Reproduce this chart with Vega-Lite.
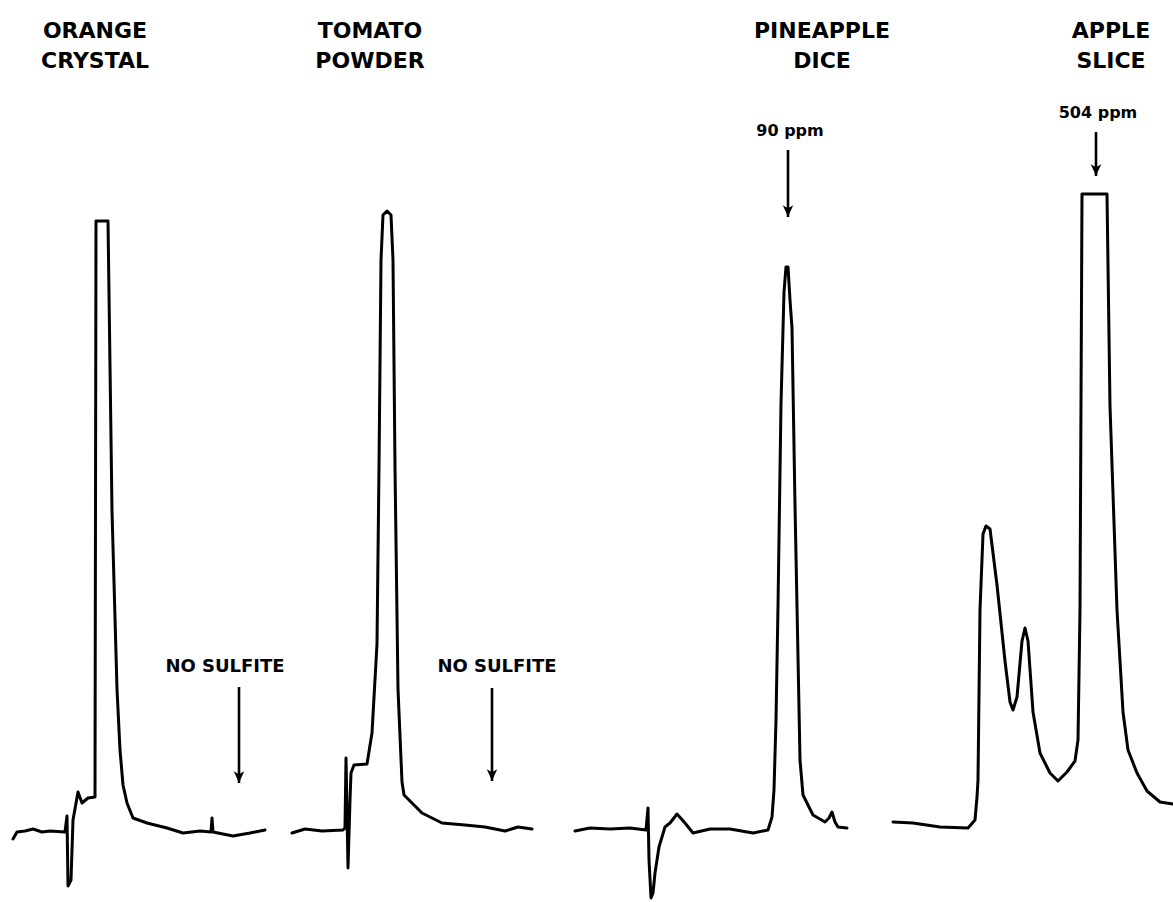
{
  "$schema": "https://vega.github.io/schema/vega-lite/v6.json",
  "width": 1173,
  "height": 902,
  "padding": 0,
  "autosize": {"type": "none"},
  "background": "white",
  "config": {"view": {"stroke": null}},
  "datasets": {
    "traces": [
      {"trace": "orange", "i": 1, "t": 13, "v": 839},
      {"trace": "orange", "i": 2, "t": 17, "v": 832},
      {"trace": "orange", "i": 3, "t": 25, "v": 831},
      {"trace": "orange", "i": 4, "t": 33, "v": 829},
      {"trace": "orange", "i": 5, "t": 42, "v": 832},
      {"trace": "orange", "i": 6, "t": 50, "v": 831},
      {"trace": "orange", "i": 7, "t": 65, "v": 832},
      {"trace": "orange", "i": 8, "t": 67, "v": 816},
      {"trace": "orange", "i": 9, "t": 68, "v": 886},
      {"trace": "orange", "i": 10, "t": 71, "v": 880},
      {"trace": "orange", "i": 11, "t": 73, "v": 820},
      {"trace": "orange", "i": 12, "t": 78, "v": 792},
      {"trace": "orange", "i": 13, "t": 82, "v": 803},
      {"trace": "orange", "i": 14, "t": 88, "v": 798},
      {"trace": "orange", "i": 15, "t": 95, "v": 797},
      {"trace": "orange", "i": 16, "t": 96, "v": 221},
      {"trace": "orange", "i": 17, "t": 108, "v": 221},
      {"trace": "orange", "i": 18, "t": 112, "v": 511},
      {"trace": "orange", "i": 19, "t": 117, "v": 689},
      {"trace": "orange", "i": 20, "t": 120, "v": 750},
      {"trace": "orange", "i": 21, "t": 123, "v": 785},
      {"trace": "orange", "i": 22, "t": 127, "v": 803},
      {"trace": "orange", "i": 23, "t": 133, "v": 818},
      {"trace": "orange", "i": 24, "t": 147, "v": 823},
      {"trace": "orange", "i": 25, "t": 167, "v": 828},
      {"trace": "orange", "i": 26, "t": 183, "v": 833},
      {"trace": "orange", "i": 27, "t": 200, "v": 831},
      {"trace": "orange", "i": 28, "t": 211, "v": 832},
      {"trace": "orange", "i": 29, "t": 212, "v": 818},
      {"trace": "orange", "i": 30, "t": 213, "v": 832},
      {"trace": "orange", "i": 31, "t": 233, "v": 836},
      {"trace": "orange", "i": 32, "t": 250, "v": 833},
      {"trace": "orange", "i": 33, "t": 265, "v": 830},
      {"trace": "tomato", "i": 1, "t": 292, "v": 833},
      {"trace": "tomato", "i": 2, "t": 305, "v": 829},
      {"trace": "tomato", "i": 3, "t": 322, "v": 831},
      {"trace": "tomato", "i": 4, "t": 343, "v": 830},
      {"trace": "tomato", "i": 5, "t": 345, "v": 828},
      {"trace": "tomato", "i": 6, "t": 346, "v": 758},
      {"trace": "tomato", "i": 7, "t": 348, "v": 868},
      {"trace": "tomato", "i": 8, "t": 350, "v": 800},
      {"trace": "tomato", "i": 9, "t": 351, "v": 773},
      {"trace": "tomato", "i": 10, "t": 354, "v": 765},
      {"trace": "tomato", "i": 11, "t": 367, "v": 764},
      {"trace": "tomato", "i": 12, "t": 372, "v": 733},
      {"trace": "tomato", "i": 13, "t": 377, "v": 644},
      {"trace": "tomato", "i": 14, "t": 379, "v": 467},
      {"trace": "tomato", "i": 15, "t": 381, "v": 260},
      {"trace": "tomato", "i": 16, "t": 383, "v": 215},
      {"trace": "tomato", "i": 17, "t": 387, "v": 211},
      {"trace": "tomato", "i": 18, "t": 391, "v": 215},
      {"trace": "tomato", "i": 19, "t": 393, "v": 260},
      {"trace": "tomato", "i": 20, "t": 395, "v": 467},
      {"trace": "tomato", "i": 21, "t": 398, "v": 689},
      {"trace": "tomato", "i": 22, "t": 402, "v": 782},
      {"trace": "tomato", "i": 23, "t": 404, "v": 795},
      {"trace": "tomato", "i": 24, "t": 412, "v": 803},
      {"trace": "tomato", "i": 25, "t": 422, "v": 813},
      {"trace": "tomato", "i": 26, "t": 442, "v": 823},
      {"trace": "tomato", "i": 27, "t": 465, "v": 825},
      {"trace": "tomato", "i": 28, "t": 485, "v": 827},
      {"trace": "tomato", "i": 29, "t": 505, "v": 831},
      {"trace": "tomato", "i": 30, "t": 518, "v": 827},
      {"trace": "tomato", "i": 31, "t": 532, "v": 829},
      {"trace": "pineapple", "i": 1, "t": 575, "v": 831},
      {"trace": "pineapple", "i": 2, "t": 590, "v": 828},
      {"trace": "pineapple", "i": 3, "t": 610, "v": 829},
      {"trace": "pineapple", "i": 4, "t": 630, "v": 828},
      {"trace": "pineapple", "i": 5, "t": 646, "v": 830},
      {"trace": "pineapple", "i": 6, "t": 648, "v": 808},
      {"trace": "pineapple", "i": 7, "t": 649, "v": 860},
      {"trace": "pineapple", "i": 8, "t": 651, "v": 898},
      {"trace": "pineapple", "i": 9, "t": 653, "v": 893},
      {"trace": "pineapple", "i": 10, "t": 655, "v": 873},
      {"trace": "pineapple", "i": 11, "t": 659, "v": 847},
      {"trace": "pineapple", "i": 12, "t": 665, "v": 827},
      {"trace": "pineapple", "i": 13, "t": 670, "v": 823},
      {"trace": "pineapple", "i": 14, "t": 677, "v": 814},
      {"trace": "pineapple", "i": 15, "t": 685, "v": 823},
      {"trace": "pineapple", "i": 16, "t": 693, "v": 833},
      {"trace": "pineapple", "i": 17, "t": 710, "v": 829},
      {"trace": "pineapple", "i": 18, "t": 730, "v": 829},
      {"trace": "pineapple", "i": 19, "t": 753, "v": 833},
      {"trace": "pineapple", "i": 20, "t": 768, "v": 830},
      {"trace": "pineapple", "i": 21, "t": 772, "v": 817},
      {"trace": "pineapple", "i": 22, "t": 774, "v": 790},
      {"trace": "pineapple", "i": 23, "t": 776, "v": 720},
      {"trace": "pineapple", "i": 24, "t": 778, "v": 606},
      {"trace": "pineapple", "i": 25, "t": 781, "v": 404},
      {"trace": "pineapple", "i": 26, "t": 784, "v": 292},
      {"trace": "pineapple", "i": 27, "t": 786, "v": 267},
      {"trace": "pineapple", "i": 28, "t": 788, "v": 267},
      {"trace": "pineapple", "i": 29, "t": 790, "v": 300},
      {"trace": "pineapple", "i": 30, "t": 792, "v": 328},
      {"trace": "pineapple", "i": 31, "t": 795, "v": 505},
      {"trace": "pineapple", "i": 32, "t": 798, "v": 657},
      {"trace": "pineapple", "i": 33, "t": 800, "v": 760},
      {"trace": "pineapple", "i": 34, "t": 803, "v": 795},
      {"trace": "pineapple", "i": 35, "t": 807, "v": 803},
      {"trace": "pineapple", "i": 36, "t": 813, "v": 815},
      {"trace": "pineapple", "i": 37, "t": 825, "v": 822},
      {"trace": "pineapple", "i": 38, "t": 829, "v": 818},
      {"trace": "pineapple", "i": 39, "t": 832, "v": 812},
      {"trace": "pineapple", "i": 40, "t": 835, "v": 822},
      {"trace": "pineapple", "i": 41, "t": 838, "v": 827},
      {"trace": "pineapple", "i": 42, "t": 847, "v": 828},
      {"trace": "apple", "i": 1, "t": 893, "v": 822},
      {"trace": "apple", "i": 2, "t": 913, "v": 823},
      {"trace": "apple", "i": 3, "t": 940, "v": 827},
      {"trace": "apple", "i": 4, "t": 968, "v": 828},
      {"trace": "apple", "i": 5, "t": 975, "v": 820},
      {"trace": "apple", "i": 6, "t": 977, "v": 797},
      {"trace": "apple", "i": 7, "t": 978, "v": 780},
      {"trace": "apple", "i": 8, "t": 980, "v": 610},
      {"trace": "apple", "i": 9, "t": 983, "v": 534},
      {"trace": "apple", "i": 10, "t": 986, "v": 526},
      {"trace": "apple", "i": 11, "t": 990, "v": 529},
      {"trace": "apple", "i": 12, "t": 997, "v": 585},
      {"trace": "apple", "i": 13, "t": 1005, "v": 661},
      {"trace": "apple", "i": 14, "t": 1010, "v": 702},
      {"trace": "apple", "i": 15, "t": 1013, "v": 710},
      {"trace": "apple", "i": 16, "t": 1017, "v": 697},
      {"trace": "apple", "i": 17, "t": 1022, "v": 641},
      {"trace": "apple", "i": 18, "t": 1025, "v": 628},
      {"trace": "apple", "i": 19, "t": 1028, "v": 641},
      {"trace": "apple", "i": 20, "t": 1033, "v": 712},
      {"trace": "apple", "i": 21, "t": 1040, "v": 753},
      {"trace": "apple", "i": 22, "t": 1050, "v": 773},
      {"trace": "apple", "i": 23, "t": 1058, "v": 781},
      {"trace": "apple", "i": 24, "t": 1067, "v": 772},
      {"trace": "apple", "i": 25, "t": 1075, "v": 761},
      {"trace": "apple", "i": 26, "t": 1078, "v": 740},
      {"trace": "apple", "i": 27, "t": 1080, "v": 610},
      {"trace": "apple", "i": 28, "t": 1082, "v": 194},
      {"trace": "apple", "i": 29, "t": 1107, "v": 194},
      {"trace": "apple", "i": 30, "t": 1110, "v": 406},
      {"trace": "apple", "i": 31, "t": 1117, "v": 610},
      {"trace": "apple", "i": 32, "t": 1123, "v": 712},
      {"trace": "apple", "i": 33, "t": 1128, "v": 750},
      {"trace": "apple", "i": 34, "t": 1137, "v": 773},
      {"trace": "apple", "i": 35, "t": 1147, "v": 791},
      {"trace": "apple", "i": 36, "t": 1160, "v": 802},
      {"trace": "apple", "i": 37, "t": 1173, "v": 804}
    ],
    "titles": [
      {"t": 95, "v": 31, "label": "ORANGE"},
      {"t": 95, "v": 61, "label": "CRYSTAL"},
      {"t": 370, "v": 31, "label": "TOMATO"},
      {"t": 370, "v": 61, "label": "POWDER"},
      {"t": 822, "v": 31, "label": "PINEAPPLE"},
      {"t": 822, "v": 61, "label": "DICE"},
      {"t": 1111, "v": 31, "label": "APPLE"},
      {"t": 1111, "v": 61, "label": "SLICE"}
    ],
    "notes": [
      {"t": 790, "v": 131, "label": "90 ppm", "kind": "ppm"},
      {"t": 1098, "v": 113, "label": "504 ppm", "kind": "ppm"},
      {"t": 225, "v": 667, "label": "NO SULFITE", "kind": "none"},
      {"t": 497, "v": 667, "label": "NO SULFITE", "kind": "none"}
    ],
    "arrows": [
      {"t": 239, "v1": 687, "v2": 783},
      {"t": 492, "v1": 688, "v2": 781},
      {"t": 788, "v1": 150, "v2": 217},
      {"t": 1096, "v1": 132, "v2": 176}
    ]
  },
  "layer": [
    {
      "data": {"name": "traces"},
      "mark": {"type": "line", "color": "black", "strokeWidth": 3, "strokeJoin": "round", "strokeCap": "round"},
      "encoding": {
        "x": {"field": "t", "type": "quantitative", "scale": {"domain": [0, 1173], "nice": false, "zero": false}, "axis": null},
        "y": {"field": "v", "type": "quantitative", "scale": {"domain": [0, 902], "nice": false, "zero": false, "reverse": true}, "axis": null},
        "detail": {"field": "trace"},
        "order": {"field": "i", "type": "quantitative"}
      }
    },
    {
      "data": {"name": "arrows"},
      "mark": {"type": "rule", "color": "black", "strokeWidth": 2.6},
      "encoding": {
        "x": {"field": "t", "type": "quantitative"},
        "y": {"field": "v1", "type": "quantitative"},
        "y2": {"field": "v2"}
      }
    },
    {
      "data": {"name": "arrows"},
      "mark": {"type": "point", "shape": "M-1,-1.3L0,0.9L1,-1.3L0,-0.7Z", "filled": true, "color": "black", "size": 110, "opacity": 1, "yOffset": -5},
      "encoding": {
        "x": {"field": "t", "type": "quantitative"},
        "y": {"field": "v2", "type": "quantitative"}
      }
    },
    {
      "data": {"name": "titles"},
      "mark": {"type": "text", "font": "DejaVu Sans", "fontWeight": "bold", "fontSize": 22, "baseline": "middle", "align": "center", "color": "black"},
      "encoding": {
        "x": {"field": "t", "type": "quantitative"},
        "y": {"field": "v", "type": "quantitative"},
        "text": {"field": "label"}
      }
    },
    {
      "data": {"name": "notes"},
      "transform": [{"filter": "datum.kind === 'ppm'"}],
      "mark": {"type": "text", "font": "DejaVu Sans", "fontWeight": "bold", "fontSize": 16, "baseline": "middle", "align": "center", "color": "black"},
      "encoding": {
        "x": {"field": "t", "type": "quantitative"},
        "y": {"field": "v", "type": "quantitative"},
        "text": {"field": "label"}
      }
    },
    {
      "data": {"name": "notes"},
      "transform": [{"filter": "datum.kind === 'none'"}],
      "mark": {"type": "text", "font": "DejaVu Sans", "fontWeight": "bold", "fontSize": 18, "baseline": "middle", "align": "center", "color": "black"},
      "encoding": {
        "x": {"field": "t", "type": "quantitative"},
        "y": {"field": "v", "type": "quantitative"},
        "text": {"field": "label"}
      }
    }
  ]
}
